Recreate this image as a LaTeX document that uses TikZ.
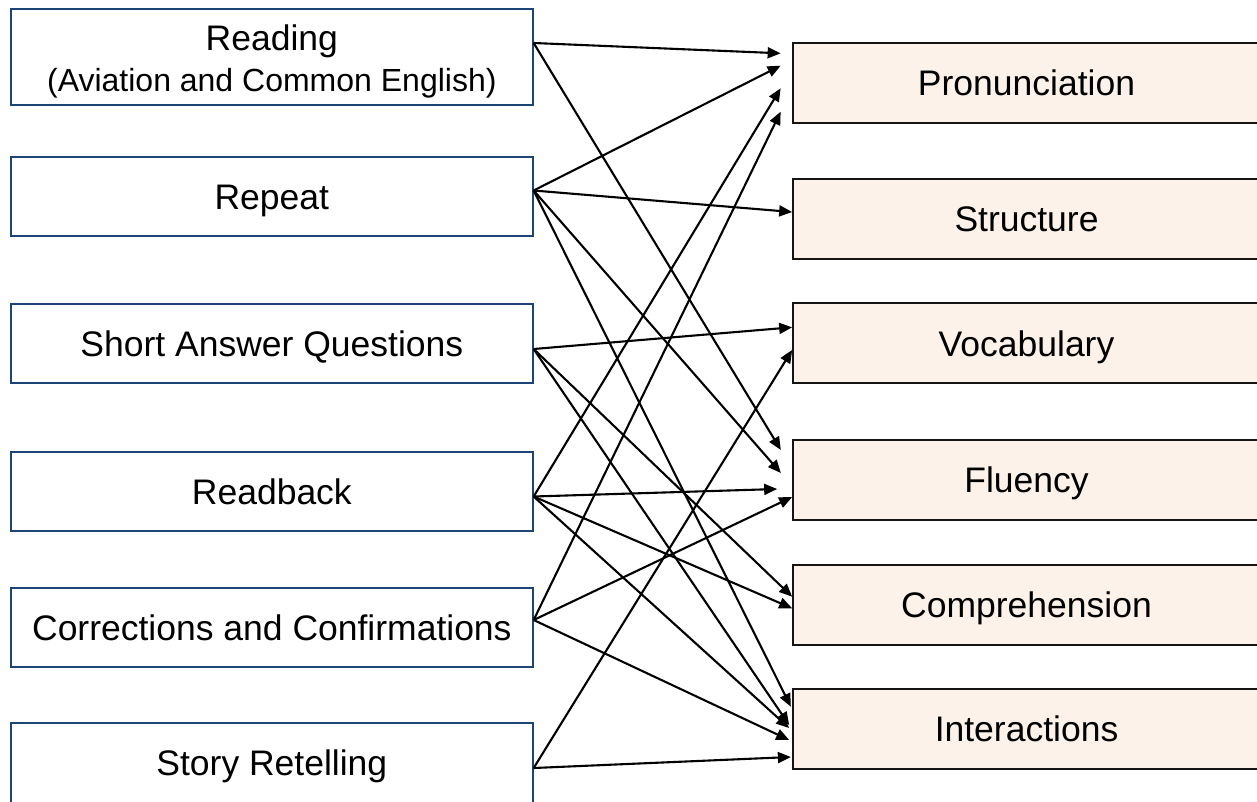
\documentclass[tikz,border=0pt]{standalone}
\usepackage{fontspec}
\setmainfont{Liberation Sans}
\usetikzlibrary{arrows.meta}
\definecolor{navy}{RGB}{28,68,118}
\definecolor{peach}{RGB}{253,242,233}
\definecolor{edge}{RGB}{20,20,20}
\begin{document}
\begin{tikzpicture}[x=1pt,y=-1pt,
  bigfont/.style={font=\fontsize{35.5}{40}\selectfont},
  leftbox/.style={draw=navy,line width=1.6pt,minimum width=522pt,minimum height=79pt,
    inner sep=0pt,bigfont,text height=25.4pt,text depth=0pt},
  rightbox/.style={draw=edge,fill=peach,line width=1.7pt,minimum width=467pt,minimum height=80pt,
    inner sep=0pt,bigfont,text height=25.4pt,text depth=0pt},
  conn/.style={line width=2.1pt,-{Triangle[length=13pt,width=11pt]}}]
\useasboundingbox (0,0) rectangle (1257,801);
% left boxes
\node[leftbox,minimum height=96pt] (reading) at (271.85,57) {};
\node[anchor=base,bigfont,inner sep=0pt] (readingA) at (271.85,50.7) {Reading};
\node[anchor=base,font=\fontsize{32}{36}\selectfont,inner sep=0pt] (readingB) at (271.85,91) {(Aviation and Common English)};
\node[leftbox] (repeat) at (271.85,196.5) {Repeat};
\node[leftbox] (short) at (271.85,343.5) {Short Answer Questions};
\node[leftbox] (readback) at (271.85,491.5) {Readback};
\node[leftbox] (corr) at (271.85,627.5) {Corrections and Confirmations};
\node[leftbox,minimum height=80pt] (story) at (271.85,763) {Story Retelling};
% right boxes
\node[rightbox] (pron) at (1026.5,82.7) {Pronunciation};
\node[rightbox] (struct) at (1026.5,218.7) {Structure};
\node[rightbox] (vocab) at (1026.5,343.3) {Vocabulary};
\node[rightbox] (flu) at (1026.5,479.7) {Fluency};
\node[rightbox] (comp) at (1026.5,604.7) {Comprehension};
\node[rightbox] (inter) at (1026.5,729) {Interactions};
% connectors
\draw[conn] ([yshift=14pt]reading.east) -- ([xshift=-11.5pt,yshift=29.4pt]pron.west);
\draw[conn] ([yshift=14pt]reading.east) -- ([xshift=-11.3pt,yshift=29.7pt]flu.west);
\draw[conn] ([yshift=6pt]repeat.east) -- ([xshift=-11.5pt,yshift=17pt]pron.west);
\draw[conn] ([yshift=6pt]repeat.east) -- ([yshift=6.7pt]struct.west);
\draw[conn] ([yshift=6pt]repeat.east) -- ([xshift=-11.3pt,yshift=6.7pt]flu.west);
\draw[conn] ([yshift=6pt]repeat.east) -- ([xshift=-1.3pt,yshift=22.3pt]inter.west);
\draw[conn] ([yshift=-5.5pt]short.east) -- ([yshift=16pt]vocab.west);
\draw[conn] ([yshift=-5.5pt]short.east) -- ([yshift=8pt]comp.west);
\draw[conn] ([yshift=-5.5pt]short.east) -- ([xshift=-3pt,yshift=4pt]inter.west);
\draw[conn] ([yshift=-5pt]readback.east) -- ([xshift=-11.5pt,yshift=-5.6pt]pron.west);
\draw[conn] ([yshift=-5pt]readback.east) -- ([xshift=-15pt,yshift=-9.3pt]flu.west);
\draw[conn] ([yshift=-5pt]readback.east) -- ([yshift=-3.6pt]comp.west);
\draw[conn] ([yshift=-5pt]readback.east) -- ([xshift=-3pt,yshift=1pt]inter.west);
\draw[conn] ([yshift=7.5pt]corr.east) -- ([xshift=-11.5pt,yshift=-29pt]pron.west);
\draw[conn] ([yshift=7.5pt]corr.east) -- ([yshift=-17.3pt]flu.west);
\draw[conn] ([yshift=7.5pt]corr.east) -- ([xshift=-3pt,yshift=-11pt]inter.west);
\draw[conn] ([yshift=-5pt]story.east) -- ([yshift=-6.7pt]vocab.west);
\draw[conn] ([yshift=-5pt]story.east) -- ([xshift=-1.3pt,yshift=-28pt]inter.west);
\end{tikzpicture}
\end{document}
